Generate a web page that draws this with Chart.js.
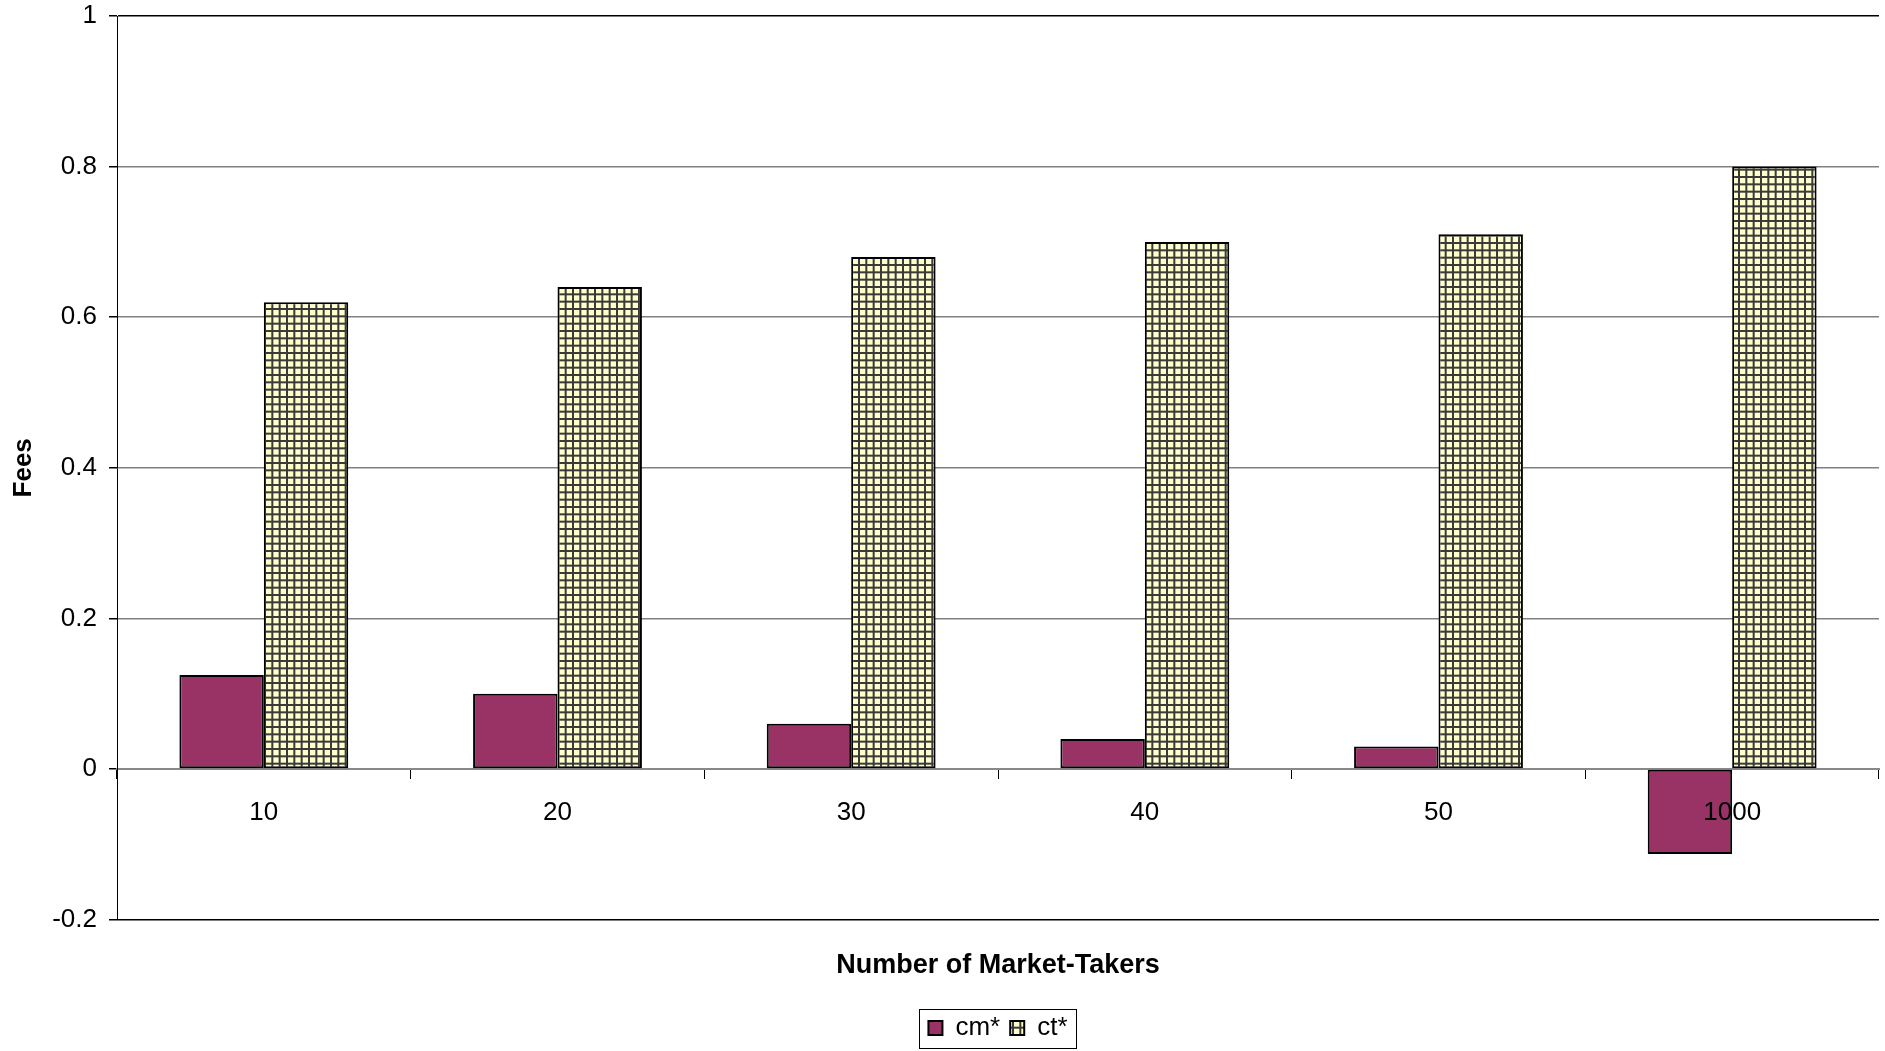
<!DOCTYPE html>
<html>
<head>
<meta charset="utf-8">
<script src="https://cdn.jsdelivr.net/npm/chart.js@4/dist/chart.umd.min.js"></script>
<style>
  html, body { margin: 0; padding: 0; background: #fff; }
  #wrap { width: 1885px; height: 1051px; }
</style>
</head>
<body>
<div id="wrap"><canvas id="myChart" width="1885" height="1051"></canvas></div>
<script>
// data
const categories = ['10', '20', '30', '40', '50', '1000'];
const cmValues = [0.125, 0.1, 0.06, 0.04, 0.03, -0.113];
const ctValues = [0.62, 0.64, 0.68, 0.70, 0.71, 0.80];
const yTickValues = [1, 0.8, 0.6, 0.4, 0.2, 0, -0.2];

// grid hatch fill for ct*, three cells per tile
function gridPattern() {
  const n = 22, step = n / 3;
  const c = document.createElement('canvas');
  c.width = n; c.height = n;
  const g = c.getContext('2d');
  g.fillStyle = '#ffffcc';
  g.fillRect(0, 0, n, n);
  g.fillStyle = '#3a3a3a';
  for (let i = 0; i < 3; i++) {
    g.fillRect(i * step, 0, 2, n);
    g.fillRect(0, i * step, n, 2);
  }
  return g.createPattern(c, 'repeat');
}

// thin frame round the legend items
const legendBox = {
  id: 'legendBox',
  afterDraw(chart) {
    const boxes = chart.legend.legendHitBoxes;
    if (!boxes || !boxes.length) return;
    const left = Math.min(...boxes.map(b => b.left)) - 9;
    const right = Math.max(...boxes.map(b => b.left + b.width)) + 9;
    const top = Math.min(...boxes.map(b => b.top)) - 6;
    const bottom = Math.max(...boxes.map(b => b.top + b.height)) + 7;
    const ctx = chart.ctx;
    ctx.save();
    ctx.strokeStyle = '#000';
    ctx.lineWidth = 1;
    ctx.strokeRect(Math.round(left) + 0.5, Math.round(top) + 0.5, Math.round(right - left), Math.round(bottom - top));
    ctx.restore();
  }
};

Chart.defaults.font.family = '"Liberation Sans", Arial, sans-serif';
Chart.defaults.font.size = 26;
Chart.defaults.color = '#000';

const ctx = document.getElementById('myChart').getContext('2d');
const myChart = new Chart(ctx, {
  type: 'bar',
  data: {
    labels: categories,
    datasets: [{
      label: 'cm*',
      data: cmValues,
      backgroundColor: '#993366',
      borderColor: '#000',
      borderWidth: 2,
      borderSkipped: false
    }, {
      label: 'ct*',
      data: ctValues,
      backgroundColor: gridPattern(),
      borderColor: '#000',
      borderWidth: 2,
      borderSkipped: false
    }]
  },
  options: {
    responsive: false,
    animation: false,
    devicePixelRatio: 1,
    categoryPercentage: 0.575,
    barPercentage: 1.0,
    layout: { padding: { top: 16, right: 6, left: 0, bottom: 0 } },
    plugins: {
      tooltip: { enabled: false },
      legend: {
        position: 'bottom',
        fullSize: false,
        labels: {
          boxWidth: 14,
          boxHeight: 14,
          padding: 10,
          font: { size: 26 }
        }
      }
    },
    scales: {
      x: {
        type: 'category',
        position: { y: 0 },
        offset: true,
        grid: {
          display: true,
          drawOnChartArea: false,
          offset: true,
          tickLength: 9,
          tickColor: '#000'
        },
        border: { display: true, color: '#888', width: 2 },
        ticks: { padding: 19, z: 1, font: { size: 26 } }
      },
      x2: {
        type: 'category',
        position: 'bottom',
        labels: categories,
        grid: { display: false },
        border: { display: false },
        ticks: { display: false },
        title: {
          display: true,
          text: 'Number of Market-Takers',
          font: { size: 27, weight: 'bold' },
          padding: { top: 22, bottom: 23 }
        }
      },
      y: {
        min: -0.2,
        max: 1,
        afterBuildTicks: s => { s.ticks = yTickValues.map(v => ({ value: v })); },
        afterFit: s => { s.width = 117; s.paddingTop = 0; s.paddingBottom = 0; },
        grid: {
          color: c => (c.tick && (c.tick.value === 1 || c.tick.value === -0.2)) ? '#000' : '#808080',
          lineWidth: 1.5,
          tickLength: 8,
          tickColor: '#000'
        },
        border: { display: true, color: '#000', width: 1 },
        ticks: {
          padding: 12,
          font: { size: 26 },
          callback: v => String(+Number(v).toFixed(1))
        },
        title: {
          display: true,
          text: 'Fees',
          font: { size: 26, weight: 'bold' },
          padding: { top: 8, bottom: 8 }
        }
      }
    }
  },
  plugins: [legendBox]
});
</script>
</body>
</html>
